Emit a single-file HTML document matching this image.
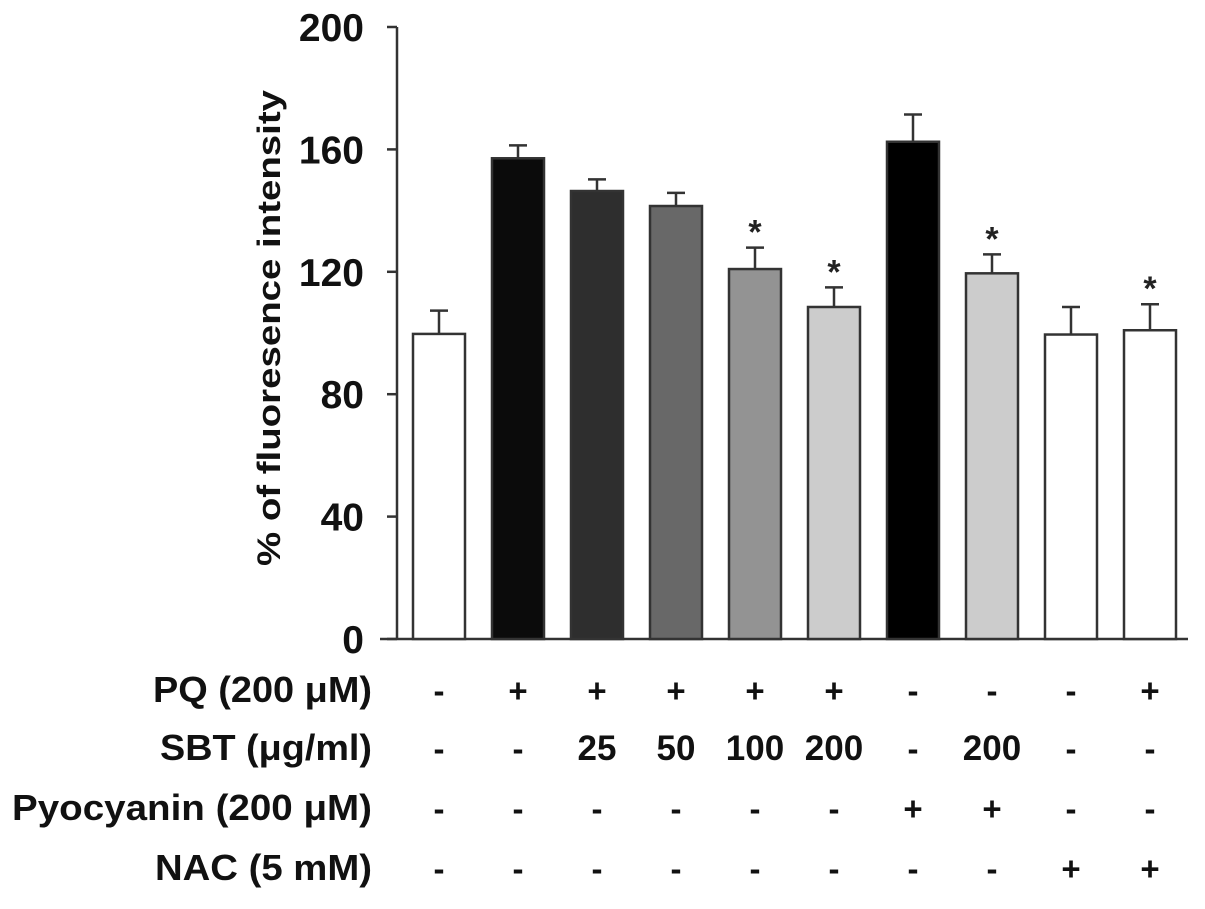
<!DOCTYPE html>
<html><head><meta charset="utf-8"><style>
html,body{margin:0;padding:0;background:#fff;}
svg{display:block;font-family:"Liberation Sans",Arial,sans-serif;}
</style></head><body>
<svg id="chart" width="1205" height="909" viewBox="0 0 1205 909" xmlns="http://www.w3.org/2000/svg">
<g id="axes"></g>
<g id="bars"></g>
<g id="table"></g>
</svg>
<script>
const groups = ["ctrl","PQ","PQ+SBT25","PQ+SBT50","PQ+SBT100","PQ+SBT200","Pyo","Pyo+SBT200","NAC","PQ+NAC"];
const values = [99.7, 157.1, 146.4, 141.5, 120.9, 108.5, 162.5, 119.5, 99.5, 100.9];
const errors = [7.6, 4.2, 3.8, 4.3, 7.0, 6.4, 8.9, 6.2, 9.0, 8.5];
const fills = ["#ffffff","#0b0b0b","#2e2e2e","#686868","#939393","#cccccc","#000000","#cccccc","#ffffff","#ffffff"];
const stars = [false,false,false,false,true,true,false,true,false,true];
const yTicks = [0, 40, 80, 120, 160, 200];
const rowLabels = ["PQ (200 μM)","SBT (μg/ml)","Pyocyanin (200 μM)","NAC (5 mM)"];
const rowValues = [
 ["-","+","+","+","+","+","-","-","-","+"],
 ["-","-","25","50","100","200","-","200","-","-"],
 ["-","-","-","-","-","-","+","+","-","-"],
 ["-","-","-","-","-","-","-","-","+","+"]
];
const NS="http://www.w3.org/2000/svg";
const y0=639, yTop=27, yMax=200;
const yScale=v=>y0-(v/yMax)*(y0-yTop);
const x0=439, step=79, bw=52;
const xScale=i=>x0+i*step;
function mk(tag,attrs,parent){const e=document.createElementNS(NS,tag);for(const k in attrs)e.setAttribute(k,attrs[k]);parent.appendChild(e);return e;}
const axes=document.getElementById('axes'), bars=document.getElementById('bars'), table=document.getElementById('table');
let l=mk('line',{x1:397,y1:yTop,x2:397,y2:y0,stroke:'#333','stroke-width':2.5},axes);


l=mk('line',{x1:380,y1:y0,x2:1188,y2:y0,stroke:'#333','stroke-width':2.5},axes);


yTicks.forEach(t=>{
  const y=yScale(t);
  const tk=mk('line',{x1:387,y1:y,x2:397,y2:y,stroke:'#333','stroke-width':2.5},axes);
  
  
  const tx=mk('text',{x:364,y:y+14,'text-anchor':'end','font-size':39,'font-weight':'bold',fill:'#111'},axes);
  tx.textContent=t;
  
  
});
const title=mk('text',{x:0,y:0,transform:'translate(280,328) rotate(-90)','text-anchor':'middle','font-size':32,'font-weight':'bold',fill:'#111',textLength:476,lengthAdjust:'spacingAndGlyphs'},axes);
title.textContent='% of fluoresence intensity';


values.forEach((v,i)=>{
  const cx=xScale(i), yt=yScale(v), ye=yScale(v+errors[i]);
  const el=mk('line',{x1:cx,y1:yt,x2:cx,y2:ye,stroke:'#333','stroke-width':2.5},bars);
  
  
  const cap=mk('line',{x1:cx-9,y1:ye,x2:cx+9,y2:ye,stroke:'#333','stroke-width':2.5},bars);
  
  
  const r=mk('rect',{x:cx-bw/2,y:yt,width:bw,height:y0-yt,fill:fills[i],stroke:'#333','stroke-width':2.5},bars);
  
  
  if(stars[i]){
    const s=mk('text',{x:cx,y:ye-4,'text-anchor':'middle','font-size':34,'font-weight':'bold',fill:'#222'},bars);
    s.textContent='*';
    
    
  }
});
const rowY=[702,760,820,880];
const rowLabelLen=[219,212,360,217];
rowLabels.forEach((lab,r)=>{
  const t=mk('text',{x:372,y:rowY[r],'text-anchor':'end','font-size':36,'font-weight':'bold',fill:'#111',textLength:rowLabelLen[r],lengthAdjust:'spacingAndGlyphs'},table);
  t.textContent=lab;
  
  
  rowValues[r].forEach((val,i)=>{
    const c=mk('text',{x:xScale(i),y:rowY[r],'text-anchor':'middle','font-size':val.length>1?35:33,'font-weight':'bold',fill:'#111'},table);
    c.textContent=val;
    
    
  });
});
</script>
</body></html>
